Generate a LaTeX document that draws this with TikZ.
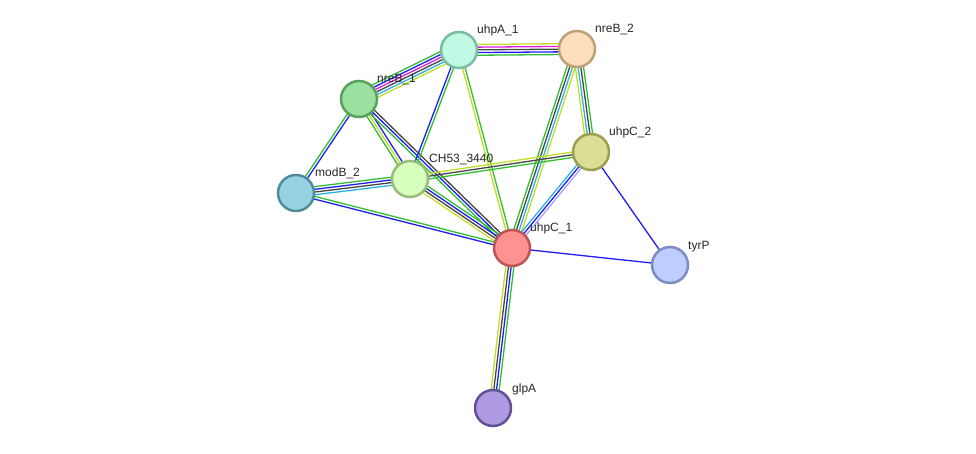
\documentclass[tikz,border=0pt]{standalone}
\usepackage{fontspec}
\setmainfont{Liberation Sans}
\usetikzlibrary{calc,backgrounds}
\definecolor{sgreen}{RGB}{50,190,50}
\definecolor{sblue}{RGB}{30,30,240}
\definecolor{sdark}{RGB}{70,70,70}
\definecolor{syellow}{RGB}{195,220,40}
\definecolor{scyan}{RGB}{40,180,225}
\definecolor{smag}{RGB}{220,30,220}
\definecolor{slav}{RGB}{165,165,255}
\tikzset{
  prot/.style={circle, minimum size=36pt, inner sep=0pt, line width=2.5pt},
  lab/.style={anchor=base west, inner sep=0pt, font=\fontsize{12}{14}\selectfont, text=black!85},
  eline/.style={line width=1.3pt},
}
\newcommand{\stredge}[4]{%
  \foreach \c [count=\i] in {#4} {%
    \pgfmathsetmacro\o{(\i-1-(#3-1)/2)*2.7}%
    \draw[eline,\c] ($(#1.center)!\o pt!90:(#2.center)$) -- ($(#2.center)!\o pt!-90:(#1.center)$);
  }%
}
\begin{document}
\begin{tikzpicture}[x=1pt,y=-1pt]
\useasboundingbox (0,0) rectangle (976,454);
\node[prot, fill={rgb,255:red,192;green,250;blue,228}, draw={rgb,255:red,120;green,190;blue,160}] (uhpA1) at (459,50) {};
\node[prot, fill={rgb,255:red,255;green,222;blue,190}, draw={rgb,255:red,190;green,160;blue,120}] (nreB2) at (577,49) {};
\node[prot, fill={rgb,255:red,155;green,225;blue,160}, draw={rgb,255:red,90;green,160;blue,95}] (nreB1) at (359,99) {};
\node[prot, fill={rgb,255:red,218;green,222;blue,150}, draw={rgb,255:red,155;green,160;blue,80}] (uhpC2) at (591,152) {};
\node[prot, fill={rgb,255:red,215;green,255;blue,190}, draw={rgb,255:red,150;green,190;blue,120}] (CH53) at (410,179) {};
\node[prot, fill={rgb,255:red,150;green,210;blue,225}, draw={rgb,255:red,80;green,140;blue,155}] (modB2) at (296,193) {};
\node[prot, fill={rgb,255:red,255;green,145;blue,145}, draw={rgb,255:red,190;green,85;blue,85}] (uhpC1) at (512,248) {};
\node[prot, fill={rgb,255:red,190;green,205;blue,255}, draw={rgb,255:red,125;green,140;blue,195}] (tyrP) at (670,265) {};
\node[prot, fill={rgb,255:red,175;green,155;blue,225}, draw={rgb,255:red,100;green,80;blue,150}] (glpA) at (493,408) {};

\node[lab] (luhpA1) at ($(uhpA1.center)+(18,-16)$) {uhpA\_1};
\node[lab] (lnreB2) at ($(nreB2.center)+(18,-16)$) {nreB\_2};
\node[lab] (lnreB1) at ($(nreB1.center)+(18,-16)$) {nreB\_1};
\node[lab] (luhpC2) at ($(uhpC2.center)+(18,-16)$) {uhpC\_2};
\node[lab] (lCH53) at ($(CH53.center)+(19,-16)$) {CH53\_3440};
\node[lab] (lmodB2) at ($(modB2.center)+(19,-16)$) {modB\_2};
\node[lab] (luhpC1) at ($(uhpC1.center)+(18,-16)$) {uhpC\_1};
\node[lab] (ltyrP) at ($(tyrP.center)+(18,-16)$) {tyrP};
\node[lab] (lglpA) at ($(glpA.center)+(19,-16)$) {glpA};

\begin{scope}[on background layer]
\stredge{uhpA1}{nreB2}{5}{sgreen,sblue,sdark,smag,syellow}
\stredge{nreB1}{uhpA1}{6}{syellow,scyan,sdark,smag,sblue,sgreen}
\stredge{nreB1}{modB2}{2}{sgreen,sblue}
\stredge{nreB1}{CH53}{3}{sgreen,syellow,sblue}
\stredge{nreB1}{uhpC1}{3}{sgreen,sblue,sdark}
\stredge{uhpA1}{CH53}{2}{sblue,sgreen}
\stredge{uhpA1}{uhpC1}{2}{syellow,sgreen}
\stredge{nreB2}{uhpC1}{4}{sgreen,sdark,scyan,syellow}
\stredge{nreB2}{uhpC2}{4}{syellow,scyan,sdark,sgreen}
\stredge{CH53}{uhpC2}{3}{sgreen,sdark,syellow}
\stredge{modB2}{CH53}{4}{scyan,sdark,sblue,sgreen}
\stredge{modB2}{uhpC1}{2}{sblue,sgreen}
\stredge{CH53}{uhpC1}{4}{syellow,sdark,sblue,sgreen}
\stredge{uhpC2}{uhpC1}{3}{scyan,sblue,slav}
\stredge{uhpC2}{tyrP}{1}{sblue}
\stredge{uhpC1}{tyrP}{1}{sblue}
\stredge{uhpC1}{glpA}{4}{syellow,sdark,sblue,sgreen}
\end{scope}
\end{tikzpicture}
\end{document}
